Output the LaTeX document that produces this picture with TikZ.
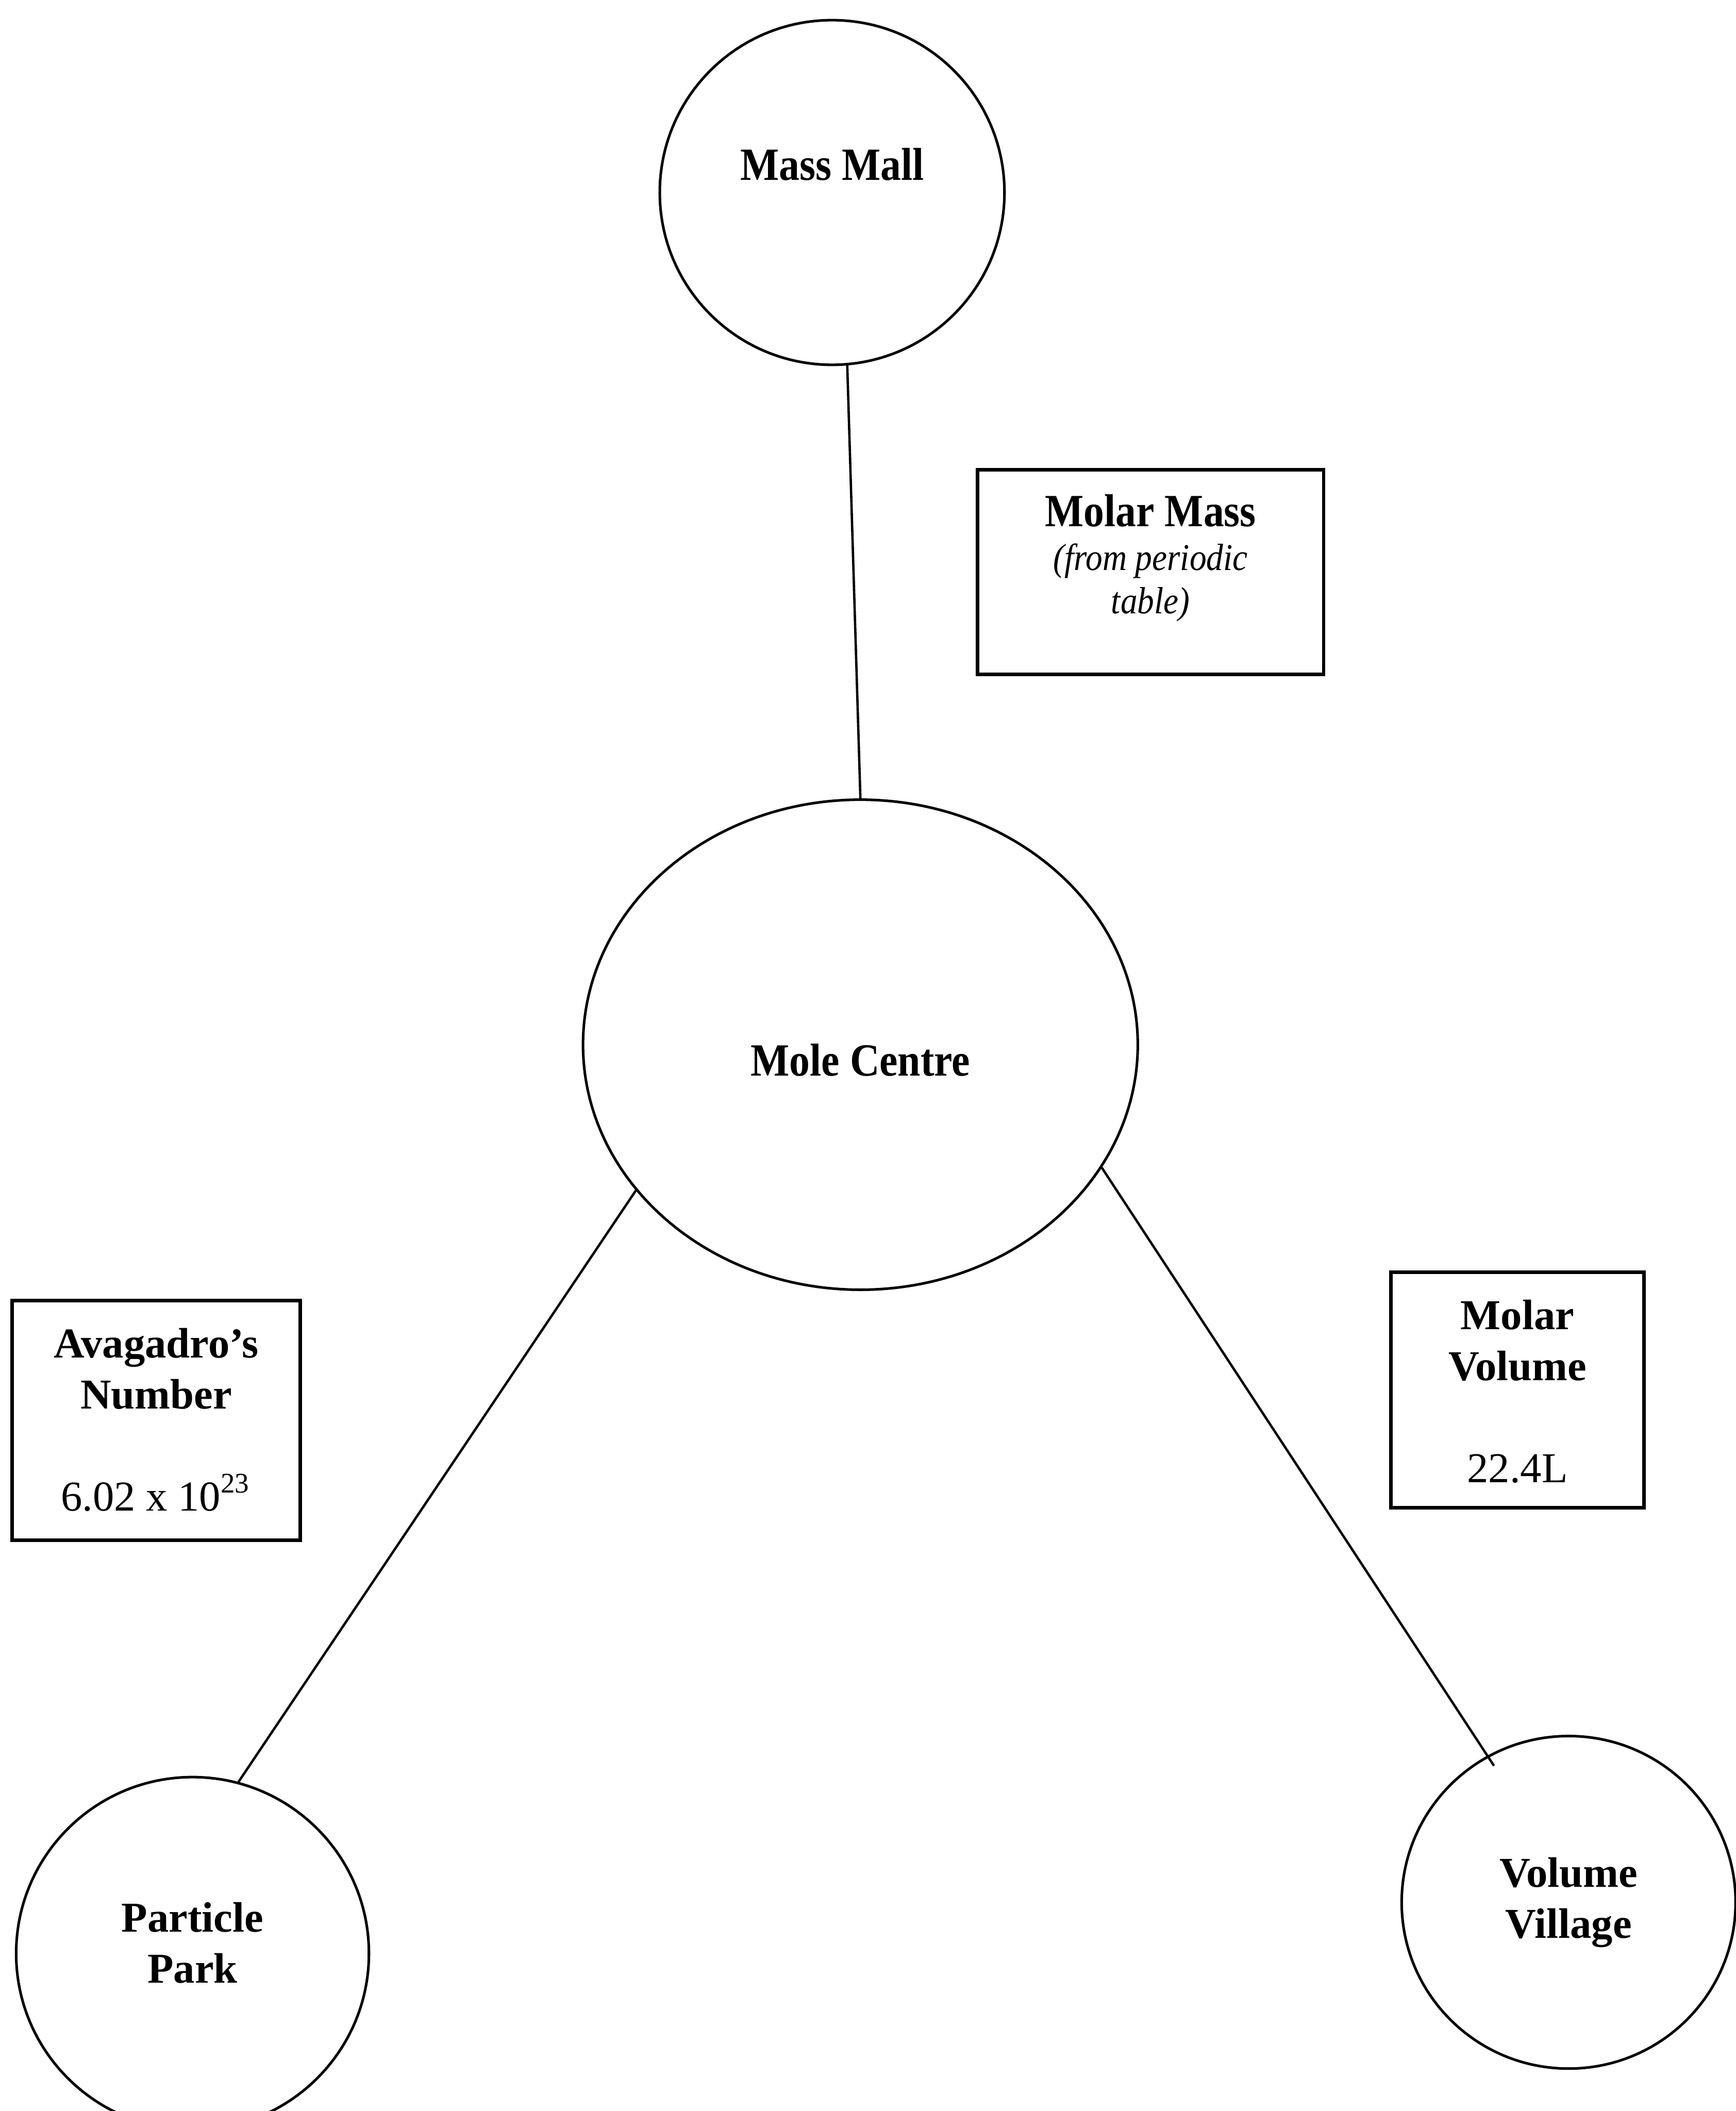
\documentclass[tikz,border=0pt]{standalone}
\usepackage{fontspec}
\setmainfont{Liberation Serif}
\newfontfamily\narrowserif{Liberation Serif}[FakeStretch=0.89]
\usetikzlibrary{shapes.geometric, positioning}
\tikzset{
  town node/.style={
    circle, draw=black, line width=0.55pt, inner sep=0pt,
    align=center, font=\bfseries\fontsize{9pt}{10.8pt}\selectfont
  },
  hub node/.style={
    ellipse, draw=black, line width=0.55pt, inner sep=0pt,
    align=center, font=\narrowserif\bfseries\fontsize{9.75pt}{11pt}\selectfont
  },
  factor box/.style={
    rectangle, draw=black, line width=0.7pt, inner sep=0pt
  },
  factor text/.style={
    align=center, inner sep=0pt, font=\fontsize{9pt}{10.8pt}\selectfont
  },
  road/.style={
    draw=black, line width=0.5pt
  }
}

\begin{document}
\begin{tikzpicture}
  \useasboundingbox (0,0) rectangle (12.89,15.68);

  \node (mall) [hub node, circle, minimum size=2.56cm,
    text height=0.25cm, text depth=0.43cm] at (6.18,14.25) {Mass Mall};
  \node (mole) [hub node, minimum width=4.12cm, minimum height=3.64cm,
    text height=0.5cm, text depth=0.04cm] at (6.39,7.92) {Mole Centre};
  \node (park) [town node, minimum size=2.62cm, text depth=0.16cm] at (1.43,1.17) {Particle\\Park};
  \node (village) [town node, ellipse, minimum width=2.48cm, minimum height=2.47cm]
    at (11.65,1.55) {Volume\\Village};

  \node (massbox) [factor box, minimum width=2.57cm, minimum height=1.52cm] at (8.545,11.43) {};
  \node (masstext) [factor text, below=0.19cm of massbox.north,
    font=\narrowserif\fontsize{9.75pt}{9.2pt}\selectfont]
    {\textbf{Molar Mass}\\{\fontsize{8pt}{9.2pt}\selectfont\itshape (from periodic}\\{\fontsize{8pt}{9.2pt}\selectfont\itshape table)}};

  \node (avobox) [factor box, minimum width=2.14cm, minimum height=1.78cm] at (1.16,5.13) {};
  \node (avotext) [factor text, below=0.21cm of avobox.north]
    {\textbf{Avagadro’s}\\\textbf{Number}\\[10.8pt]6.02 x 10\textsuperscript{23}};

  \node (volbox) [factor box, minimum width=1.88cm, minimum height=1.75cm] at (11.27,5.355) {};
  \node (voltext) [factor text, below=0.21cm of volbox.north]
    {\textbf{Molar}\\\textbf{Volume}\\[10.8pt]22.4L};

  \draw [road] (mall.275) -- (mole.north);
  \draw [road] (mole.213) -- (park.75);
  \draw [road, shorten >=-0.09cm] (mole.333) -- (village.119);
\end{tikzpicture}
\end{document}
